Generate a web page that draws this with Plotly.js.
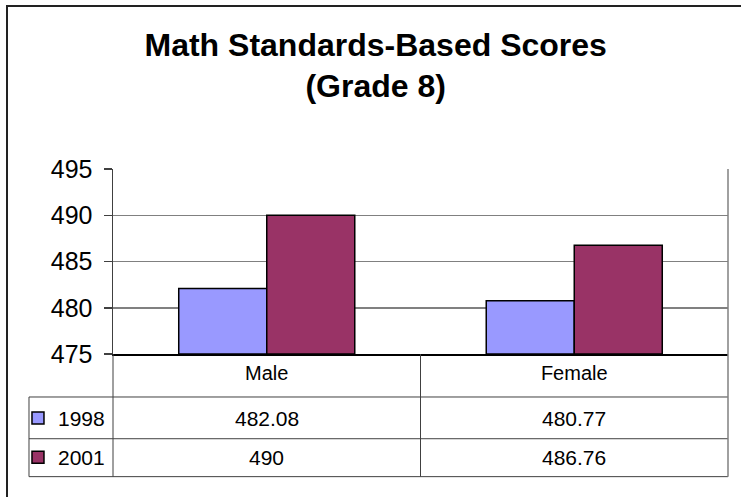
<!DOCTYPE html>
<html>
<head>
<meta charset="utf-8">
<script src="https://cdn.plot.ly/plotly-3.0.1.min.js"></script>
<style>
  html, body { margin: 0; padding: 0; background: #ffffff; overflow: hidden; }
  #wrap { position: relative; width: 741px; height: 497px; overflow: hidden; }
  #chart { width: 741px; height: 497px; }
  #frame { position: absolute; left: 6px; top: 5px; width: 760px; height: 520px;
           border-left: 2px solid #222222; border-top: 2px solid #222222;
           pointer-events: none; box-sizing: border-box; }
</style>
</head>
<body>
<div id="wrap">
  <div id="chart"></div>
  <div id="frame"></div>
</div>
<script>
// ---- data ----
var categories = ["Male", "Female"];
var seriesNames = ["1998", "2001"];
var scores1998 = [482.08, 480.77];
var scores2001 = [490, 486.76];
var tableText1998 = ["482.08", "480.77"];
var tableText2001 = ["490", "486.76"];
var yTickValues = [475, 480, 485, 490, 495];

var FONT = "'Liberation Sans', Arial, sans-serif";
var colors = ["#9999FF", "#993366"];
var seriesValues = [scores1998, scores2001];
var seriesTableText = [tableText1998, tableText2001];

var traces = seriesNames.map(function (name, i) {
  return {
    type: "bar",
    name: name,
    x: categories,
    y: seriesValues[i].map(function (v) { return v - 475; }),
    base: 475,
    legendgroup: "g" + i,
    marker: { color: colors[i], line: { color: "#000000", width: 1.5 } },
    hoverinfo: "skip"
  };
});

// table geometry in paper coords (plot area: x 113..728, y 169..354 px)
var rowTop = -0.2324, rowMid = -0.458, rowBot = -0.663;
var rowCenters = [-0.346, -0.562];
var tableLeft = -0.1366;
var lineColor = "#404040";

var annotations = [];
seriesTableText.forEach(function (texts, r) {
  texts.forEach(function (t, c) {
    annotations.push({
      xref: "x", yref: "paper", x: categories[c], y: rowCenters[r],
      text: t, showarrow: false, xanchor: "center", yanchor: "middle",
      font: { family: FONT, size: 21, color: "#000000" }
    });
  });
});

var shapes = [
  // table horizontal lines
  { type: "line", xref: "paper", yref: "paper", x0: tableLeft, x1: 1, y0: rowTop, y1: rowTop, line: { color: lineColor, width: 1 } },
  { type: "line", xref: "paper", yref: "paper", x0: tableLeft, x1: 1, y0: rowMid, y1: rowMid, line: { color: lineColor, width: 1 } },
  { type: "line", xref: "paper", yref: "paper", x0: tableLeft, x1: 1, y0: rowBot, y1: rowBot, line: { color: lineColor, width: 1 } },
  // table vertical lines
  { type: "line", xref: "paper", yref: "paper", x0: tableLeft, x1: tableLeft, y0: rowTop, y1: rowBot, line: { color: lineColor, width: 1 } },
  { type: "line", xref: "paper", yref: "paper", x0: 0, x1: 0, y0: 0, y1: rowBot, line: { color: lineColor, width: 1 } },
  { type: "line", xref: "paper", yref: "paper", x0: 0.5, x1: 0.5, y0: 0, y1: rowBot, line: { color: lineColor, width: 1 } },
  { type: "line", xref: "paper", yref: "paper", x0: 1, x1: 1, y0: 1, y1: rowBot, line: { color: "#808080", width: 1.5 } }
];

var layout = {
  width: 741, height: 497,
  margin: { l: 113, r: 13, t: 169, b: 143, pad: 0 },
  paper_bgcolor: "#ffffff", plot_bgcolor: "#ffffff",
  font: { family: FONT, color: "#000000" },
  title: {
    text: "<b>Math Standards-Based Scores<br>(Grade 8)</b>",
    font: { family: FONT, size: 32, color: "#000000" },
    xref: "container", x: 0.507, xanchor: "center",
    yref: "container", y: 0.888, yanchor: "top"
  },
  bargap: 0.4276, bargroupgap: 0,
  barmode: "group",
  xaxis: {
    type: "category",
    showgrid: false, zeroline: false,
    showline: true, linecolor: "#000000", linewidth: 1.5,
    ticks: "", tickfont: { family: FONT, size: 20, color: "#000000" },
    ticklabelstandoff: 0,
    fixedrange: true
  },
  yaxis: {
    range: [475, 495],
    tickvals: yTickValues,
    ticktext: yTickValues.map(String),
    showgrid: true, gridcolor: "#808080", gridwidth: 1.5,
    zeroline: false,
    showline: true, linecolor: "#404040", linewidth: 1.5,
    ticks: "outside", ticklen: 8, tickcolor: "#404040", tickwidth: 1.5,
    tickfont: { family: FONT, size: 25, color: "#000000" },
    ticklabelstandoff: 6,
    fixedrange: true
  },
  showlegend: true,
  legend: {
    x: -0.1545, xref: "paper", xanchor: "left",
    y: rowTop - 0.004, yanchor: "top",
    traceorder: "grouped",
    tracegroupgap: 9,
    font: { family: FONT, size: 21, color: "#000000" },
    bgcolor: "rgba(0,0,0,0)", borderwidth: 0,
    itemwidth: 30
  },
  annotations: annotations,
  shapes: shapes
};

Plotly.newPlot("chart", traces, layout, { displayModeBar: false, staticPlot: true });
</script>
</body>
</html>
